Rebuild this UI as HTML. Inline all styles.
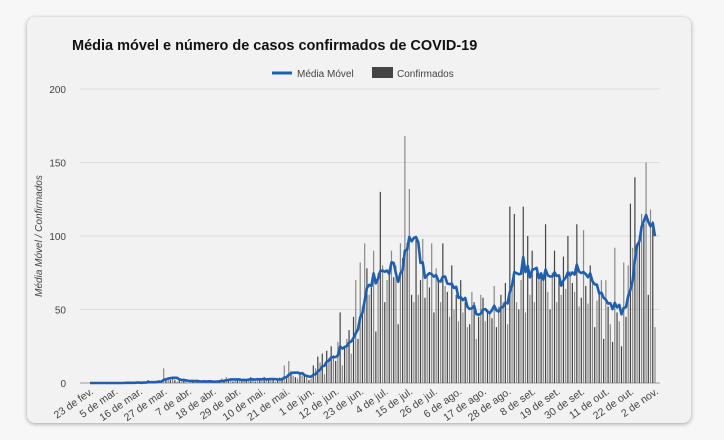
<!DOCTYPE html>
<html><head><meta charset="utf-8"><style>
body{margin:0;background:#f7f7f7;width:724px;height:440px;overflow:hidden;font-family:"Liberation Sans",sans-serif}
.card{position:absolute;left:27px;top:17px;width:664px;height:406px;background:#f2f2f2;border-radius:8px;box-shadow:0 1px 4px rgba(0,0,0,.35)}
svg{position:absolute;left:0;top:0}
</style></head><body>
<div class="card"></div>
<svg id="chart" width="724" height="440">
<text x="72" y="50" font-size="14.5" font-weight="bold" fill="#111">Média móvel e número de casos confirmados de COVID-19</text>
<g>
<line x1="272" y1="73" x2="292" y2="73" stroke="#1f5fb0" stroke-width="3"/>
<text x="297" y="77" font-size="10" fill="#444">Média Móvel</text>
<rect x="372" y="67" width="21" height="11" fill="#444"/>
<text x="397" y="77" font-size="10" fill="#444">Confirmados</text>
</g>
<text transform="translate(42,236) rotate(-90)" text-anchor="middle" font-size="10" font-style="italic" fill="#444">Média Móvel / Confirmados</text>
</svg>
<script>
const cases=[0,0,0,0,0,0,0,0,0,0,
0,0,0,0,0,0,1,0,0,0,
0,1,0,0,1,0,2,0,1,0,
1,2,1,10,3,4,2,3,2,1,
2,1,3,1,0,2,1,1,2,1,
0,1,1,2,1,0,1,1,2,3,
2,4,2,3,1,2,3,2,1,3,
2,3,4,2,1,3,2,3,4,2,
3,2,3,1,2,4,2,12,3,15,
8,5,4,3,7,5,6,4,2,3,
12,10,18,14,20,6,22,17,25,19,
15,28,48,12,24,30,36,20,45,70,
30,82,52,95,78,60,65,90,35,75,
130,80,55,70,75,90,72,80,40,95,
85,168,95,132,60,55,100,60,70,98,
58,72,65,95,48,78,70,55,95,66,
62,45,80,50,60,42,70,48,55,38,
40,62,55,30,45,60,58,42,50,48,
44,66,38,52,60,55,68,40,120,70,
115,55,50,70,120,48,100,60,90,55,
75,70,72,70,108,62,50,75,90,55,
72,60,86,64,100,76,68,62,108,52,
58,104,66,54,80,70,38,56,62,70,
30,70,52,40,28,92,48,42,25,82,
45,80,122,92,140,95,100,115,108,150,
60,118,110,38];
const yTicks=[0,50,100,150,200];
const xLabels=["23 de fev.","5 de mar.","16 de mar.","27 de mar.","7 de abr.","18 de abr.","29 de abr.","10 de mai.","21 de mai.","1 de jun.","12 de jun.","23 de jun.","4 de jul.","15 de jul.","26 de jul.","6 de ago.","17 de ago.","28 de ago.","8 de set.","19 de set.","30 de set.","11 de out.","22 de out.","2 de nov."];
const labelStep=11;
const NS="http://www.w3.org/2000/svg";
const svg=document.getElementById('chart');
const X0=90,X1=655,Y0=383,Y1=89,YMAX=200;
const n=cases.length;
const xs=i=>X0+i*(X1-X0)/(n-1);
const ys=v=>Y0-(v/YMAX)*(Y0-Y1);
function mk(t,a){const e=document.createElementNS(NS,t);for(const k in a)e.setAttribute(k,a[k]);svg.appendChild(e);return e;}
yTicks.forEach(v=>{
const g=mk('line',{x1:80,x2:660,y1:ys(v),y2:ys(v),stroke:v===0?'#999':'#dcdcdc','stroke-width':1});


const t=mk('text',{x:66,y:ys(v)+4,'text-anchor':'end','font-size':10,fill:'#444'});
t.textContent=v;


});
cases.forEach((v,i)=>{
const r=mk('rect',{x:xs(i)-0.6,y:ys(v),width:1.2,height:Y0-ys(v),fill:i%2?'#8a8a8a':'#444'});


});
const ma=cases.map((v,i)=>{const s=cases.slice(Math.max(0,i-6),i+1);return s.reduce((a,b)=>a+b,0)/s.length;});
const p=mk('path',{d:ma.map((v,i)=>(i?'L':'M')+xs(i).toFixed(1)+' '+ys(v).toFixed(1)).join(''),fill:'none',stroke:'#1f5fb0','stroke-width':2.6,'stroke-linejoin':'round'});


xLabels.forEach((l,k)=>{
const x=xs(k*labelStep);
const t=mk('text',{transform:`translate(${x+4},${393}) rotate(-35)`,'text-anchor':'end','font-size':10.5,fill:'#444'});
t.textContent=l;


});
</script>
</body></html>
